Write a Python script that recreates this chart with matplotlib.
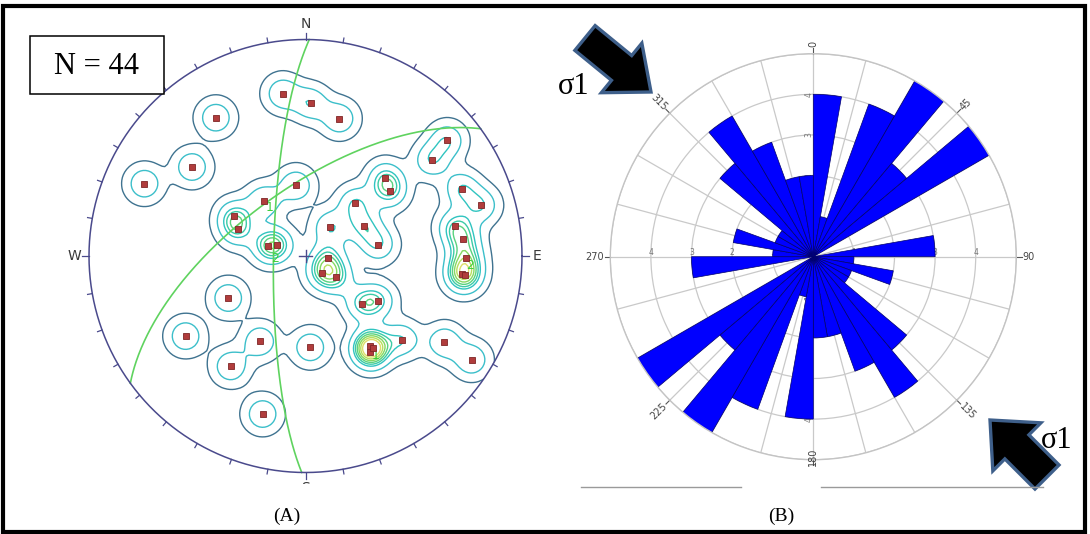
import numpy as np
import matplotlib
matplotlib.use("Agg")
import matplotlib.pyplot as plt
from matplotlib.patches import Polygon, Rectangle, Circle

W, H = 1090, 534

# ---------------- Stereonet data (equal-area projected poles, unit circle) ----------------
pole_east = [-0.106, 0.024, 0.157, -0.414, -0.524, -0.744, -0.044, -0.192, -0.329, -0.314,
             -0.173, -0.132, 0.655, 0.582, 0.368, 0.391, 0.229, 0.115, 0.272, 0.337,
             0.103, 0.078, 0.143, 0.722, 0.810, 0.690, 0.727, 0.742, 0.722, 0.739,
             0.260, 0.334, -0.357, -0.554, -0.210, -0.346, 0.022, 0.298, 0.298, 0.446,
             0.642, 0.767, -0.198, 0.311]
pole_north = [0.750, 0.705, 0.635, 0.639, 0.411, 0.334, 0.326, 0.254, 0.183, 0.123,
              0.045, 0.053, 0.534, 0.443, 0.359, 0.298, 0.243, 0.133, 0.138, 0.053,
              -0.010, -0.078, -0.098, 0.311, 0.234, 0.138, 0.078, -0.010, -0.085, -0.090,
              -0.221, -0.206, -0.194, -0.370, -0.394, -0.510, -0.422, -0.414, -0.442, -0.386,
              -0.399, -0.479, -0.730, -0.425]
plane_strike = [181, 234]
plane_dip = [78, 65]
plane_labels = ["2", "1"]
plane_label_east = [-0.141, -0.167]
plane_label_north = [-0.013, 0.226]
max_labels = ["1", "2"]
max_label_east = [0.322, 0.758]
max_label_north = [-0.460, -0.044]
compass_labels = ["N", "E", "S", "W"]
n_label = "N = 44"

# ---------------- Rose data: strike counts per 10 deg bin (0-180, bidirectional) ----------------
bin_start_deg = list(range(0, 180, 10))
strike_counts = [4, 1, 4, 5, 3, 5, 0, 0, 3, 1, 2, 1, 1, 3, 4, 3, 2, 2]
rose_angle_labels = [0, 45, 90, 135, 180, 225, 270, 315]
rose_rings = [1, 2, 3, 4, 5]

fig = plt.figure(figsize=(W / 100, H / 100), dpi=100)
fig.patch.set_facecolor("white")


def px_axes(x0, y0, x1, y1, **kw):
    return fig.add_axes([x0 / W, 1 - y1 / H, (x1 - x0) / W, (y1 - y0) / H], **kw)


# ======================= (A) stereonet =======================
cx, cy, R = 305.5, 256.0, 216.5
sx0, sx1, sy0, sy1 = 62, 549, 12, 484
sax = px_axes(sx0, sy0, sx1, sy1)
sax.set_xlim((sx0 - cx) / R, (sx1 - cx) / R)
sax.set_ylim((cy - sy1) / R, (cy - sy0) / R)
sax.axis("off")

navy = "#4a4a8c"
t = np.linspace(0, 2 * np.pi, 721)
sax.plot(np.cos(t), np.sin(t), color=navy, lw=1.1, zorder=6)
for az in range(0, 360, 10):
    a = np.deg2rad(az)
    L = 0.032 if az % 90 == 0 else 0.022
    sax.plot([np.sin(a), (1 + L) * np.sin(a)], [np.cos(a), (1 + L) * np.cos(a)],
             color=navy, lw=0.9, zorder=6)
for lab, az in zip(compass_labels, [0, 90, 180, 270]):
    a = np.deg2rad(az)
    sax.text(1.068 * np.sin(a), 1.072 * np.cos(a), lab, ha="center", va="center",
             fontsize=10, color="#3a3a3a", clip_on=True)
sax.plot([-0.03, 0.03], [0, 0], color=navy, lw=1.0, zorder=6)
sax.plot([0, 0], [-0.03, 0.03], color=navy, lw=1.0, zorder=6)

# density contours
g = np.linspace(-1.1, 1.1, 177)
X, Y = np.meshgrid(g, g)
Z = np.zeros_like(X)
s = 0.056
for e, n in zip(pole_east, pole_north):
    Z += np.exp(-((X - e) ** 2 + (Y - n) ** 2) / (2 * s * s))
levels = [0.17, 0.55, 1.05, 1.3, 1.55, 1.8, 2.05, 2.3]
ccols = ["#3f7390", "#3cbfca", "#30c4c0", "#3ccba6", "#5ad27e", "#86d862", "#b8df5e", "#dede6a"]
clip = Circle((0, 0), 1.0, transform=sax.transData)
cs = sax.contour(X, Y, Z, levels=levels, colors=ccols, linewidths=1.0, zorder=3)
cs.set_clip_path(clip)

# great circles (equal-area, lower hemisphere)
green = "#5fd35f"
for stk, dip in zip(plane_strike, plane_dip):
    sk, dp = np.deg2rad(stk), np.deg2rad(dip)
    sv = np.array([np.sin(sk), np.cos(sk), 0.0])
    dd = sk + np.pi / 2
    dv = np.array([np.sin(dd) * np.cos(dp), np.cos(dd) * np.cos(dp), -np.sin(dp)])
    r = np.linspace(0, np.pi, 300)
    v = np.outer(np.cos(r), sv) + np.outer(np.sin(r), dv)
    plunge = np.arcsin(np.clip(-v[:, 2], -1, 1))
    trend = np.arctan2(v[:, 0], v[:, 1])
    rho = np.sqrt(2) * np.sin((np.pi / 2 - plunge) / 2)
    sax.plot(rho * np.sin(trend), rho * np.cos(trend), color=green, lw=1.2, zorder=4)
for lab, e, n in zip(plane_labels + max_labels, plane_label_east + max_label_east,
                     plane_label_north + max_label_north):
    sax.text(e, n, lab, color="#3ccf3c", fontsize=9, ha="center", va="center", zorder=7)

sax.plot(pole_east, pole_north, ls="none", marker="s", ms=4.0, mfc="#b03c3c",
         mec="#7e2626", mew=0.6, zorder=8)

# ======================= (B) rose diagram =======================
rcx, rcy, RR = 813.3, 256.7, 203.0
rax = px_axes(rcx - RR, rcy - RR, rcx + RR, rcy + RR, projection="polar")
rax.set_theta_zero_location("N")
rax.set_theta_direction(-1)
rax.set_ylim(0, 5)
rax.set_yticks(rose_rings)
rax.set_yticklabels([])
rax.set_xticks(np.deg2rad(np.arange(0, 360, 15)))
rax.set_xticklabels([])
rax.grid(True, color="#c9c9c9", lw=0.9)
rax.spines["polar"].set_color("#c4c4c4")
rax.spines["polar"].set_linewidth(1.0)
rax.set_axisbelow(True)

full_starts = bin_start_deg + [b + 180 for b in bin_start_deg]
full_counts = strike_counts + strike_counts
rax.bar(np.deg2rad(np.array(full_starts) + 5), full_counts, width=np.deg2rad(10), bottom=0,
        color="#0000ff", edgecolor="#00006a", linewidth=0.5, align="center", zorder=2)

for a in rose_angle_labels:
    th = np.deg2rad(a)
    rax.plot([th, th], [5, 5.13], color="#555555", lw=0.8, clip_on=False)
    rot = 90 - a
    while rot <= -90:
        rot += 180
    ha = "left" if 0 <= a <= 180 else "right"
    rax.text(th, 5.16, str(a), rotation=rot, rotation_mode="anchor", ha=ha, va="center",
             fontsize=7, color="#444444", clip_on=False)
for a in [0, 90, 180, 270]:
    th = np.deg2rad(a)
    rot = 90 - a
    while rot <= -90:
        rot += 180
    for rv in rose_rings[:-1]:
        rax.text(th, rv, str(rv), rotation=rot, rotation_mode="anchor", ha="center",
                 va="bottom", fontsize=5.5, color="#777777", zorder=1.5)

# ======================= overlay: frame, arrows, labels =======================
ov = fig.add_axes([0, 0, 1, 1], zorder=10)
ov.set_xlim(0, W)
ov.set_ylim(H, 0)
ov.axis("off")
ov.patch.set_alpha(0)

ov.add_patch(Rectangle((3, 6), 1082, 526, fill=False, ec="black", lw=3.0))
ov.add_patch(Rectangle((30, 36), 134, 58, fc="white", ec="black", lw=1.1))
ov.text(97, 66, n_label, ha="center", va="center", fontsize=22, family="Liberation Serif")
ov.text(287, 516, "(A)", ha="center", va="center", fontsize=14, family="Liberation Serif")
ov.text(781, 516, "(B)", ha="center", va="center", fontsize=14, family="Liberation Serif")
ov.plot([581, 741], [487, 487], color="#9a9a9a", lw=1.0)
ov.plot([821, 1043], [487, 487], color="#9a9a9a", lw=1.0)


def block_arrow(tail, tip, shaft_w, head_w, head_len):
    tail = np.array(tail, float)
    tip = np.array(tip, float)
    d = tip - tail
    u = d / np.hypot(*d)
    p = np.array([-u[1], u[0]])
    base = tip - u * head_len
    pts = [tail + p * shaft_w / 2, base + p * shaft_w / 2, base + p * head_w / 2, tip,
           base - p * head_w / 2, base - p * shaft_w / 2, tail - p * shaft_w / 2]
    return Polygon(pts, closed=True, fc="black", ec="#3e5f8a", lw=2.4, joinstyle="miter")


ov.add_patch(block_arrow((585, 38), (651, 92), 32, 64, 38))
ov.add_patch(block_arrow((1047, 477), (990, 420), 34, 68, 38))
ov.text(558, 94, "\u03c31", ha="left", va="baseline", fontsize=22, family="Liberation Serif")
ov.text(1041, 448, "\u03c31", ha="left", va="baseline", fontsize=22, family="Liberation Serif")

fig.savefig("out.png", dpi=100)
